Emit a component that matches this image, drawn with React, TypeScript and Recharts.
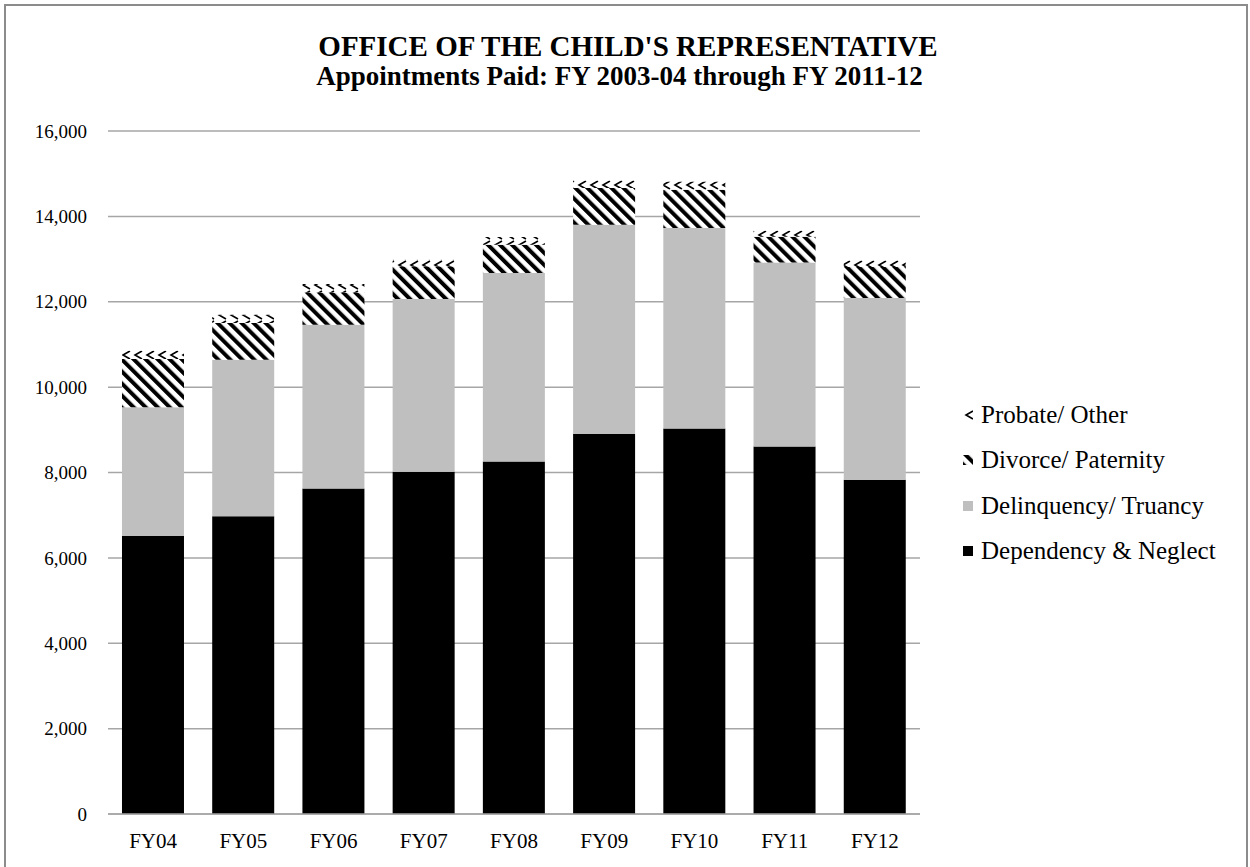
import { Bar, BarChart, CartesianGrid, XAxis, YAxis } from "recharts";

const years = ["FY04", "FY05", "FY06", "FY07", "FY08", "FY09", "FY10", "FY11", "FY12"];
const dependency = [6515, 6977, 7624, 8015, 8257, 8906, 9030, 8608, 7828];
const delinquency = [3016, 3663, 3836, 4047, 4414, 4898, 4696, 4313, 4257];
const divorce = [1125, 860, 757, 765, 664, 859, 898, 602, 727];
const probate = [195, 194, 197, 156, 180, 180, 187, 140, 156];
const yTicks = [0, 2000, 4000, 6000, 8000, 10000, 12000, 14000, 16000];

const chartData = years.map((year, i) => ({
    year,
    dependency: dependency[i],
    delinquency: delinquency[i],
    divorce: divorce[i],
    probate: probate[i],
}));

// bottom-to-top stacking order
const series = [
    { key: "dependency", name: "Dependency & Neglect", fill: "#000000" },
    { key: "delinquency", name: "Delinquency/ Truancy", fill: "#bfbfbf" },
    { key: "divorce", name: "Divorce/ Paternity", fill: "url(#hatchDivorce)" },
    { key: "probate", name: "Probate/ Other", fill: "url(#hatchProbate)" },
];

const serif = "'Liberation Serif', 'Times New Roman', serif";

const PatternDefs = () => (
    <svg width={0} height={0} style={{ position: "absolute" }}>
        <defs>
            <pattern id="hatchDivorce" width="8.5" height="8.5" patternUnits="userSpaceOnUse" patternTransform="rotate(-45)">
                <rect width="8.5" height="8.5" fill="#fff" />
                <rect width="4" height="8.5" fill="#000" />
            </pattern>
            <pattern id="hatchProbate" width="12" height="10" patternUnits="userSpaceOnUse">
                <rect width="12" height="10" fill="#fff" />
                <path d="M10,1 L3,5 L10,9" stroke="#000" strokeWidth="1.6" fill="none" />
            </pattern>
        </defs>
    </svg>
);

const LegendBox = () => (
    <div style={{ position: "absolute", left: 963, top: 392, fontFamily: serif, fontSize: 25, color: "#000" }}>
        {[...series].reverse().map((s) => (
            <div key={s.key} style={{ display: "flex", alignItems: "center", height: 45.5, whiteSpace: "nowrap" }}>
                <svg width={10} height={10} style={{ marginRight: 8 }}>
                    <rect width={10} height={10} fill={s.fill} />
                </svg>
                <span>{s.name}</span>
            </div>
        ))}
    </div>
);

export default function App() {
    return (
        <div style={{ position: "absolute", left: 0, top: 0, width: 1250, height: 867, overflow: "hidden", background: "#fff" }}>
            <PatternDefs />
            <div
                style={{
                    position: "absolute",
                    left: 4,
                    top: 4,
                    width: 1240,
                    height: 900,
                    border: "2px solid #8c8c8c",
                }}
            />
            <div
                style={{
                    position: "absolute",
                    left: 0,
                    top: 32,
                    width: 1250,
                    textAlign: "center",
                    fontFamily: serif,
                    fontWeight: "bold",
                    color: "#000",
                }}
            >
                <div style={{ fontSize: 29, lineHeight: "29px", paddingLeft: 6 }}>OFFICE OF THE CHILD'S REPRESENTATIVE</div>
                <div style={{ fontSize: 27, lineHeight: "27px", marginTop: 2, paddingRight: 11 }}>
                    Appointments Paid: FY 2003-04 through FY 2011-12
                </div>
            </div>
            <div style={{ position: "absolute", left: 0, top: 0 }}>
                <BarChart
                    width={1250}
                    height={867}
                    data={chartData}
                    margin={{ top: 131, right: 330, bottom: 23, left: 8 }}
                    barCategoryGap="15.5%"
                >
                    <CartesianGrid vertical={false} stroke="#a6a6a6" strokeWidth={1.5} />
                    <XAxis
                        dataKey="year"
                        height={30}
                        tickLine={false}
                        tickMargin={13}
                        axisLine={{ stroke: "#a6a6a6", strokeWidth: 1.5 }}
                        tick={{ fill: "#000", fontSize: 21, fontFamily: serif }}
                    />
                    <YAxis
                        width={100}
                        domain={[0, 16000]}
                        ticks={yTicks}
                        axisLine={false}
                        tickLine={false}
                        tickMargin={15}
                        tickFormatter={(v: number) => v.toLocaleString("en-US")}
                        tick={{ fill: "#000", fontSize: 19, fontFamily: serif }}
                    />
                    {series.map((s) => (
                        <Bar key={s.key} dataKey={s.key} name={s.name} stackId="a" fill={s.fill} isAnimationActive={false} />
                    ))}
                </BarChart>
            </div>
            <LegendBox />
        </div>
    );
}
